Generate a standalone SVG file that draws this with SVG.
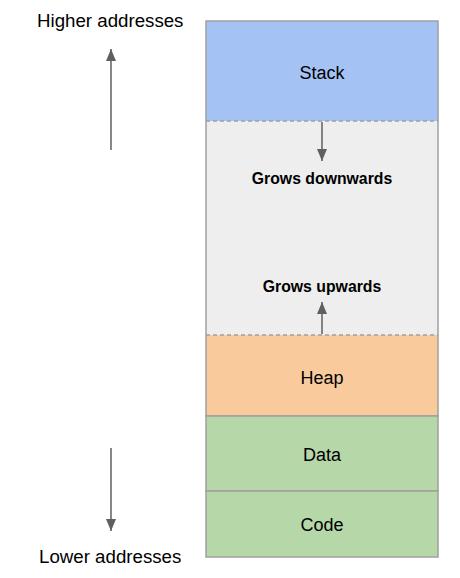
<svg xmlns="http://www.w3.org/2000/svg" width="460" height="578" viewBox="0 0 460 578">
<style>
text{font-family:"Liberation Sans",Arial,sans-serif;fill:#000}
.lbl{font-size:18.7px}
.seg{font-size:18px;text-anchor:middle}
.bold{font-size:15.8px;font-weight:bold;text-anchor:middle}
.box{stroke:#a0a0a0;stroke-width:1.5}
.dash{stroke:#a0a0a0;stroke-width:1.5;stroke-dasharray:4 3;fill:none}
.arr{stroke:#5f5f5f;stroke-width:1.5;fill:none}
</style>
<defs>
<marker id="ah" viewBox="0 0 10 10" refX="10" refY="5" markerWidth="12" markerHeight="10" markerUnits="userSpaceOnUse" orient="auto" preserveAspectRatio="none">
<path d="M0,0 L10,5 L0,10 z" fill="#5f5f5f"/>
</marker>
</defs>
<g id="free">
<rect x="206" y="121" width="232" height="214" fill="#eeeeee" stroke="none"/>
<line class="box" x1="206" y1="121" x2="206" y2="335"/>
<line class="box" x1="438" y1="121" x2="438" y2="335"/>
<text class="bold" x="322" y="184">Grows downwards</text>
<text class="bold" x="322" y="292">Grows upwards</text>
</g>
<g id="stack">
<path class="box" d="M206,121 V21 H438 V121" fill="#a4c2f4"/>
<text class="seg" x="322" y="79">Stack</text>
</g>
<g id="heap">
<path class="box" d="M206,335 V416 H438 V335" fill="#f9cb9c"/>
<text class="seg" x="322" y="384">Heap</text>
</g>
<g id="data">
<rect class="box" x="206" y="416" width="232" height="75" fill="#b6d7a8"/>
<text class="seg" x="322" y="461">Data</text>
</g>
<g id="code">
<rect class="box" x="206" y="491" width="232" height="66" fill="#b6d7a8"/>
<text class="seg" x="322" y="531">Code</text>
</g>
<g id="boundaries">
<line class="dash" x1="206" y1="121" x2="438" y2="121"/>
<line class="dash" x1="206" y1="335" x2="438" y2="335"/>
</g>
<g id="higher">
<text class="lbl" x="37" y="27">Higher addresses</text>
</g>
<g id="lower">
<text class="lbl" x="39" y="563">Lower addresses</text>
</g>
<g id="connectors">
<line class="arr" x1="111" y1="150" x2="111" y2="49" marker-end="url(#ah)"/>
<line class="arr" x1="111" y1="448" x2="111" y2="531" marker-end="url(#ah)"/>
<line class="arr" x1="322" y1="122" x2="322" y2="161" marker-end="url(#ah)"/>
<line class="arr" x1="322" y1="334" x2="322" y2="302" marker-end="url(#ah)"/>
</g>
</svg>
